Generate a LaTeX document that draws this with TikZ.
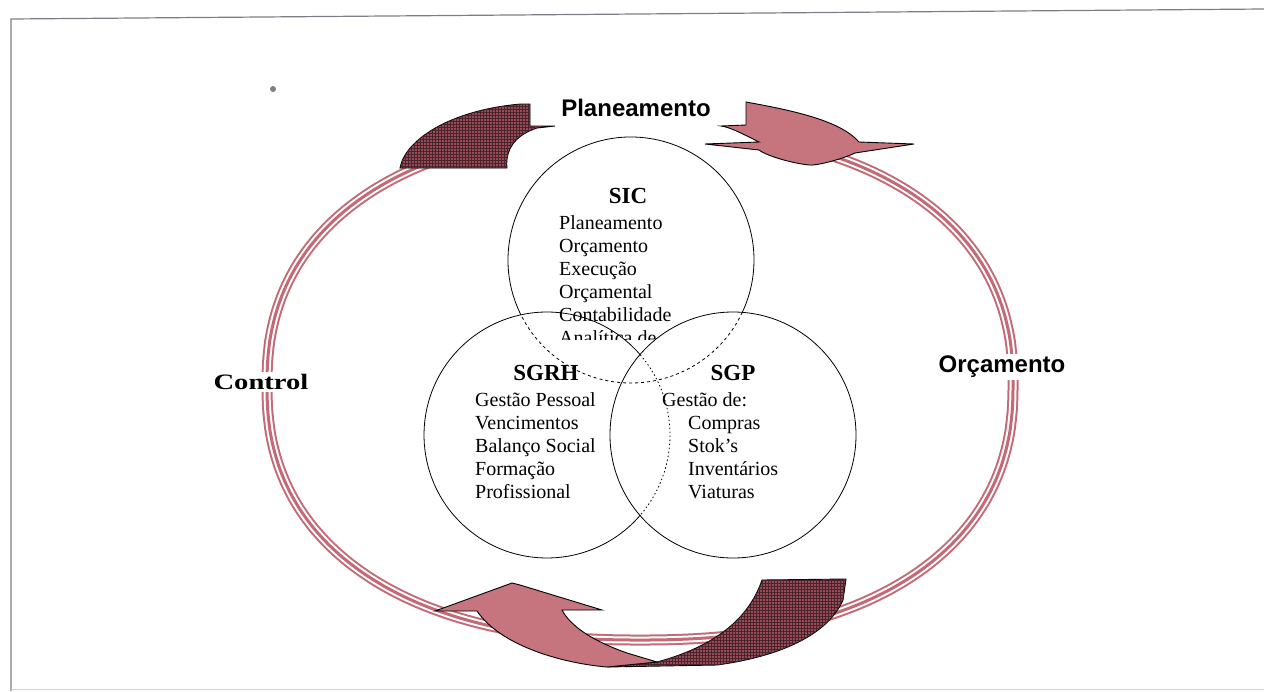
\documentclass[tikz,border=0pt]{standalone}
\usepackage{fontspec}
\setmainfont{Liberation Serif}
\newfontfamily\labelsans{Liberation Sans}
\usetikzlibrary{patterns}
\definecolor{rose}{RGB}{198,116,126}
\definecolor{roseline}{RGB}{196,106,118}
\definecolor{wine}{RGB}{150,76,88}
\definecolor{winegrid}{RGB}{75,35,42}
\definecolor{framegray}{RGB}{125,125,135}
\begin{document}
\begin{tikzpicture}[x=1pt,y=-1pt,
  lightarrow/.style={fill=rose, draw=black, line width=0.9pt, line join=miter},
  darkarrow/.style={fill=wine, draw=black, line width=0.9pt, line join=miter},
  darkgrid/.style={pattern=grid, pattern color=winegrid},
  venn/.style={draw=black, line width=0.8pt},
  hidden/.style={draw=black, line width=0.8pt, dash pattern=on 3pt off 3pt},
  body/.style={font=\fontsize{20}{23}\selectfont, inner sep=0pt, anchor=base west},
  title/.style={font=\bfseries\fontsize{23}{25}\selectfont, inner sep=0pt, anchor=base},
  cyclelabel/.style={fill=white, inner sep=2pt, font=\labelsans\bfseries\fontsize{24}{26}\selectfont}]

\useasboundingbox (0,0) rectangle (1264,691);

% page frame
\draw[framegray, line width=1.2pt] (11,691) -- (11,19) -- (1264,9);
\draw[framegray!35, line width=0.8pt] (11,689) -- (1264,689);
\fill[framegray] (273,89) circle (3);

% the cycle ring: a rounded-box superellipse drawn as three thin strands
\foreach \w/\c in {11/roseline, 7/white, 3/roseline}
  \draw[line width=\w pt, \c, smooth] plot[domain=-62:242, samples=240, variable=\t]
    ({640 + 373*(cos(\t)<0 ? -1 : 1)*pow(abs(cos(\t)),0.87)},
     {385 + 255*(sin(\t)<0 ? -1 : 1)*pow(abs(sin(\t)),0.87)});

% curved block arrows
\draw[darkarrow] (400,168) .. controls (405,140) and (450,110) .. (521,104)
  -- (530,104) -- (530,126) -- (555,126) -- (537,128)
  .. controls (515,135) and (505,150) .. (507,168) -- cycle;
\fill[darkgrid] (400,168) .. controls (405,140) and (450,110) .. (521,104)
  -- (530,104) -- (530,126) -- (537,128)
  .. controls (515,135) and (505,150) .. (507,168) -- cycle;

\draw[lightarrow] (746,102) .. controls (790,110) and (840,120) .. (859,142)
  -- (914,144) -- (855,153) .. controls (840,160) and (815,166) .. (809,165)
  .. controls (790,163) and (765,155) .. (759,150) -- (705,144) -- (759,142)
  .. controls (745,135) and (730,127) .. (721,126) -- (746,125) -- cycle;

\draw[darkarrow] (762,580) -- (846,579) -- (843,600)
  .. controls (830,630) and (790,655) .. (717,665) -- (607,667) -- (657,662)
  .. controls (720,645) and (750,615) .. (762,580) -- cycle;
\fill[darkgrid] (762,580) -- (846,579) -- (843,600)
  .. controls (830,630) and (790,655) .. (717,665) -- (607,667) -- (657,662)
  .. controls (720,645) and (750,615) .. (762,580) -- cycle;

\draw[lightarrow] (435,611) -- (512,583) -- (520,585) -- (602,610) -- (562,610)
  .. controls (570,625) and (590,640) .. (627,653) -- (657,662) -- (607,667)
  .. controls (560,663) and (500,645) .. (477,611) -- cycle;

% cycle labels
\node[cyclelabel, fill=none] (plan) at (636,108) {Planeamento};
\node[cyclelabel] (orc) at (1002,367) {Orçamento};
\node[cyclelabel, font=\bfseries\fontsize{22}{24}\selectfont, xscale=1.3] (ctrl) at (261,382) {Control};

% the three subsystems
\coordinate (sic) at (631,260);
\coordinate (sgrh) at (547,435);
\coordinate (sgp) at (733,435);

\draw[venn] (sic) ++(153.6:123) arc[start angle=153.6, end angle=385.2, radius=123];
\draw[hidden] (sic) ++(25.2:123) arc[start angle=25.2, end angle=153.6, radius=123];
\draw[venn] (sgrh) ++(40.7:123) arc[start angle=40.7, end angle=319.3, radius=123];
\draw[hidden, dash pattern=on 1.5pt off 2.5pt] (sgrh) ++(-40.7:123) arc[start angle=-40.7, end angle=40.7, radius=123];
\draw[venn] (sgp) circle (123);

% SIC
\node[title] (sict) at (628,203) {SIC};
\foreach \t [count=\i] in {Planeamento, Orçamento, Execução, Orçamental, Contabilidade}
  \node[body] (sic\i) at (559,206+23*\i) {\t};
\begin{scope}
  \clip (540,325) rectangle (700,339);
  \node[body] (sic6) at (559,344) {Analítica de};
\end{scope}

% SGRH
\node[title] (sgrht) at (546,380) {SGRH};
\foreach \t [count=\i] in {Gestão Pessoal, Vencimentos, Balanço Social, Formação, Profissional}
  \node[body] (sgrh\i) at (475,383+23*\i) {\t};

% SGP
\node[title] (sgpt) at (733,380) {SGP};
\node[body] (sgp0) at (662,406) {Gestão de:};
\foreach \t [count=\i] in {Compras, Stok’s, Inventários, Viaturas}
  \node[body] (sgp\i) at (688,406+23*\i) {\t};
\end{tikzpicture}
\end{document}
